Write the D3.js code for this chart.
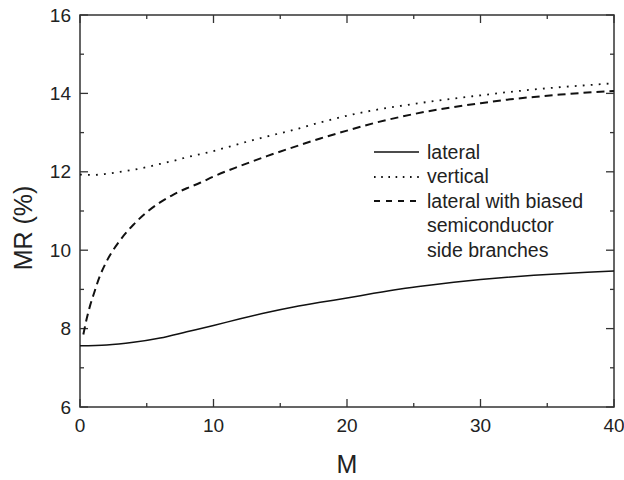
<!DOCTYPE html>
<html>
<head>
<meta charset="utf-8">
<script src="https://cdn.jsdelivr.net/npm/d3@7"></script>
<style>
body { margin: 0; background: #fff; }
text { font-family: "Liberation Sans", Arial, sans-serif; fill: #222; }
</style>
</head>
<body>
<div id="graphic"></div>
<script>
// values
const mLateral = [0, 2, 4, 6, 8, 10, 12, 14, 16, 18, 20, 22, 24, 26, 28, 30, 32, 34, 36, 38, 40];
const mrLateral = [7.56, 7.58, 7.65, 7.76, 7.92, 8.08, 8.25, 8.41, 8.55, 8.67, 8.78, 8.90, 9.01, 9.10, 9.18, 9.25, 9.31, 9.36, 9.40, 9.44, 9.47];

const mVertical = [0, 1, 2, 3, 4, 5, 6, 7, 8, 10, 12, 14, 16, 18, 20, 22, 24, 26, 28, 30, 32, 34, 36, 38, 40];
const mrVertical = [11.93, 11.92, 11.95, 12.0, 12.05, 12.12, 12.2, 12.28, 12.37, 12.53, 12.72, 12.9, 13.07, 13.26, 13.43, 13.57, 13.68, 13.78, 13.87, 13.95, 14.03, 14.1, 14.16, 14.21, 14.26];

const mBiased = [0.25, 0.5, 0.75, 1, 1.5, 2, 3, 4, 5, 6, 7, 8, 9, 10, 12, 14, 16, 18, 20, 22, 24, 26, 28, 30, 32, 34, 36, 38, 40];
const mrBiased = [7.85, 8.25, 8.58, 8.85, 9.35, 9.72, 10.25, 10.65, 10.97, 11.22, 11.42, 11.58, 11.72, 11.88, 12.15, 12.4, 12.63, 12.85, 13.05, 13.24, 13.4, 13.54, 13.65, 13.75, 13.84, 13.91, 13.97, 14.02, 14.06];

const xTicks = [0, 10, 20, 30, 40];
const xMinor = [5, 15, 25, 35];
const yTicks = [6, 8, 10, 12, 14, 16];
const yMinor = [7, 9, 11, 13, 15];

const legendLabels = [["lateral"], ["vertical"], ["lateral with biased", "semiconductor", "side branches"]];

const W = 624, H = 480;
const margin = {top: 15, right: 10, bottom: 73, left: 80};
const MAJOR = 8, MINOR = 4;

var svg = d3.select("#graphic").append("svg")
    .attr("width", W)
    .attr("height", H);

var x = d3.scaleLinear().domain([0, 40]).range([margin.left, W - margin.right]);
var y = d3.scaleLinear().domain([6, 16]).range([H - margin.bottom, margin.top]);

// frame
svg.append("rect")
    .attr("x", x(0)).attr("y", y(16))
    .attr("width", x(40) - x(0)).attr("height", y(6) - y(16))
    .attr("fill", "none").attr("stroke", "#333").attr("stroke-width", 1.5);

// ticks on all four sides, pointing in
function tickLines(vals, len, side){
    svg.append("g").selectAll("line")
        .data(vals).enter().append("line")
        .attr("stroke", "#333").attr("stroke-width", 1.3)
        .each(function(d){
            var l = d3.select(this);
            if(side == "bottom") l.attr("x1", x(d)).attr("x2", x(d)).attr("y1", y(6)).attr("y2", y(6) - len);
            if(side == "top") l.attr("x1", x(d)).attr("x2", x(d)).attr("y1", y(16)).attr("y2", y(16) + len);
            if(side == "left") l.attr("y1", y(d)).attr("y2", y(d)).attr("x1", x(0)).attr("x2", x(0) + len);
            if(side == "right") l.attr("y1", y(d)).attr("y2", y(d)).attr("x1", x(40)).attr("x2", x(40) - len);
        })
}
["bottom", "top"].forEach(s => { tickLines(xTicks, MAJOR, s); tickLines(xMinor, MINOR, s) })
;["left", "right"].forEach(s => { tickLines(yTicks, MAJOR, s); tickLines(yMinor, MINOR, s) })

// tick labels
svg.append("g").selectAll("text")
    .data(xTicks).enter().append("text")
    .attr("x", d => x(d)).attr("y", y(6) + 25)
    .attr("text-anchor", "middle")
    .style("font-size", "19px")
    .text(d => d);

svg.append("g").selectAll("text")
    .data(yTicks).enter().append("text")
    .attr("x", x(0) - 9).attr("y", d => y(d)).attr("dy", "0.35em")
    .attr("text-anchor", "end")
    .style("font-size", "19px")
    .text(d => d);

// axis titles
svg.append("text")
    .attr("x", (x(0) + x(40)) / 2).attr("y", 473)
    .attr("text-anchor", "middle")
    .style("font-size", "25px")
    .text("M");

svg.append("text")
    .attr("transform", "translate(32,228) rotate(-90)")
    .attr("text-anchor", "middle")
    .style("font-size", "25px")
    .text("MR (%)");

// curves
var line = d3.line()
    .x(d => x(d[0]))
    .y(d => y(d[1]))
    .curve(d3.curveMonotoneX);

function zip(a, b){ return a.map((v, i) => [v, b[i]]) }

svg.append("path")
    .datum(zip(mLateral, mrLateral))
    .attr("d", line)
    .attr("fill", "none").attr("stroke", "#111").attr("stroke-width", 1.5);

svg.append("path")
    .datum(zip(mVertical, mrVertical))
    .attr("d", line)
    .attr("fill", "none").attr("stroke", "#111").attr("stroke-width", 1.8)
    .attr("stroke-dasharray", "1.8,6.2");

svg.append("path")
    .datum(zip(mBiased, mrBiased))
    .attr("d", line)
    .attr("fill", "none").attr("stroke", "#111").attr("stroke-width", 2)
    .attr("stroke-dasharray", "8,5");

// legend
var legX1 = 374, legX2 = 419, legText = 427;
var legLineY = [152, 177, 201];
var legDash = [null, "1.6,5.6", "6,6"];
var legWidth = [1.5, 1.8, 2];
var rowGap = 24.6;
var baseY = 158.5;
var row = 0;
legendLabels.forEach(function(lines, i){
    svg.append("line")
        .attr("x1", legX1).attr("x2", legX2)
        .attr("y1", legLineY[i]).attr("y2", legLineY[i])
        .attr("stroke", "#111").attr("stroke-width", legWidth[i])
        .attr("stroke-dasharray", legDash[i]);
    lines.forEach(function(t){
        svg.append("text")
            .attr("x", legText).attr("y", baseY + row * rowGap)
            .style("font-size", "19.5px")
            .text(t);
        row++;
    })
})
</script>
</body>
</html>
